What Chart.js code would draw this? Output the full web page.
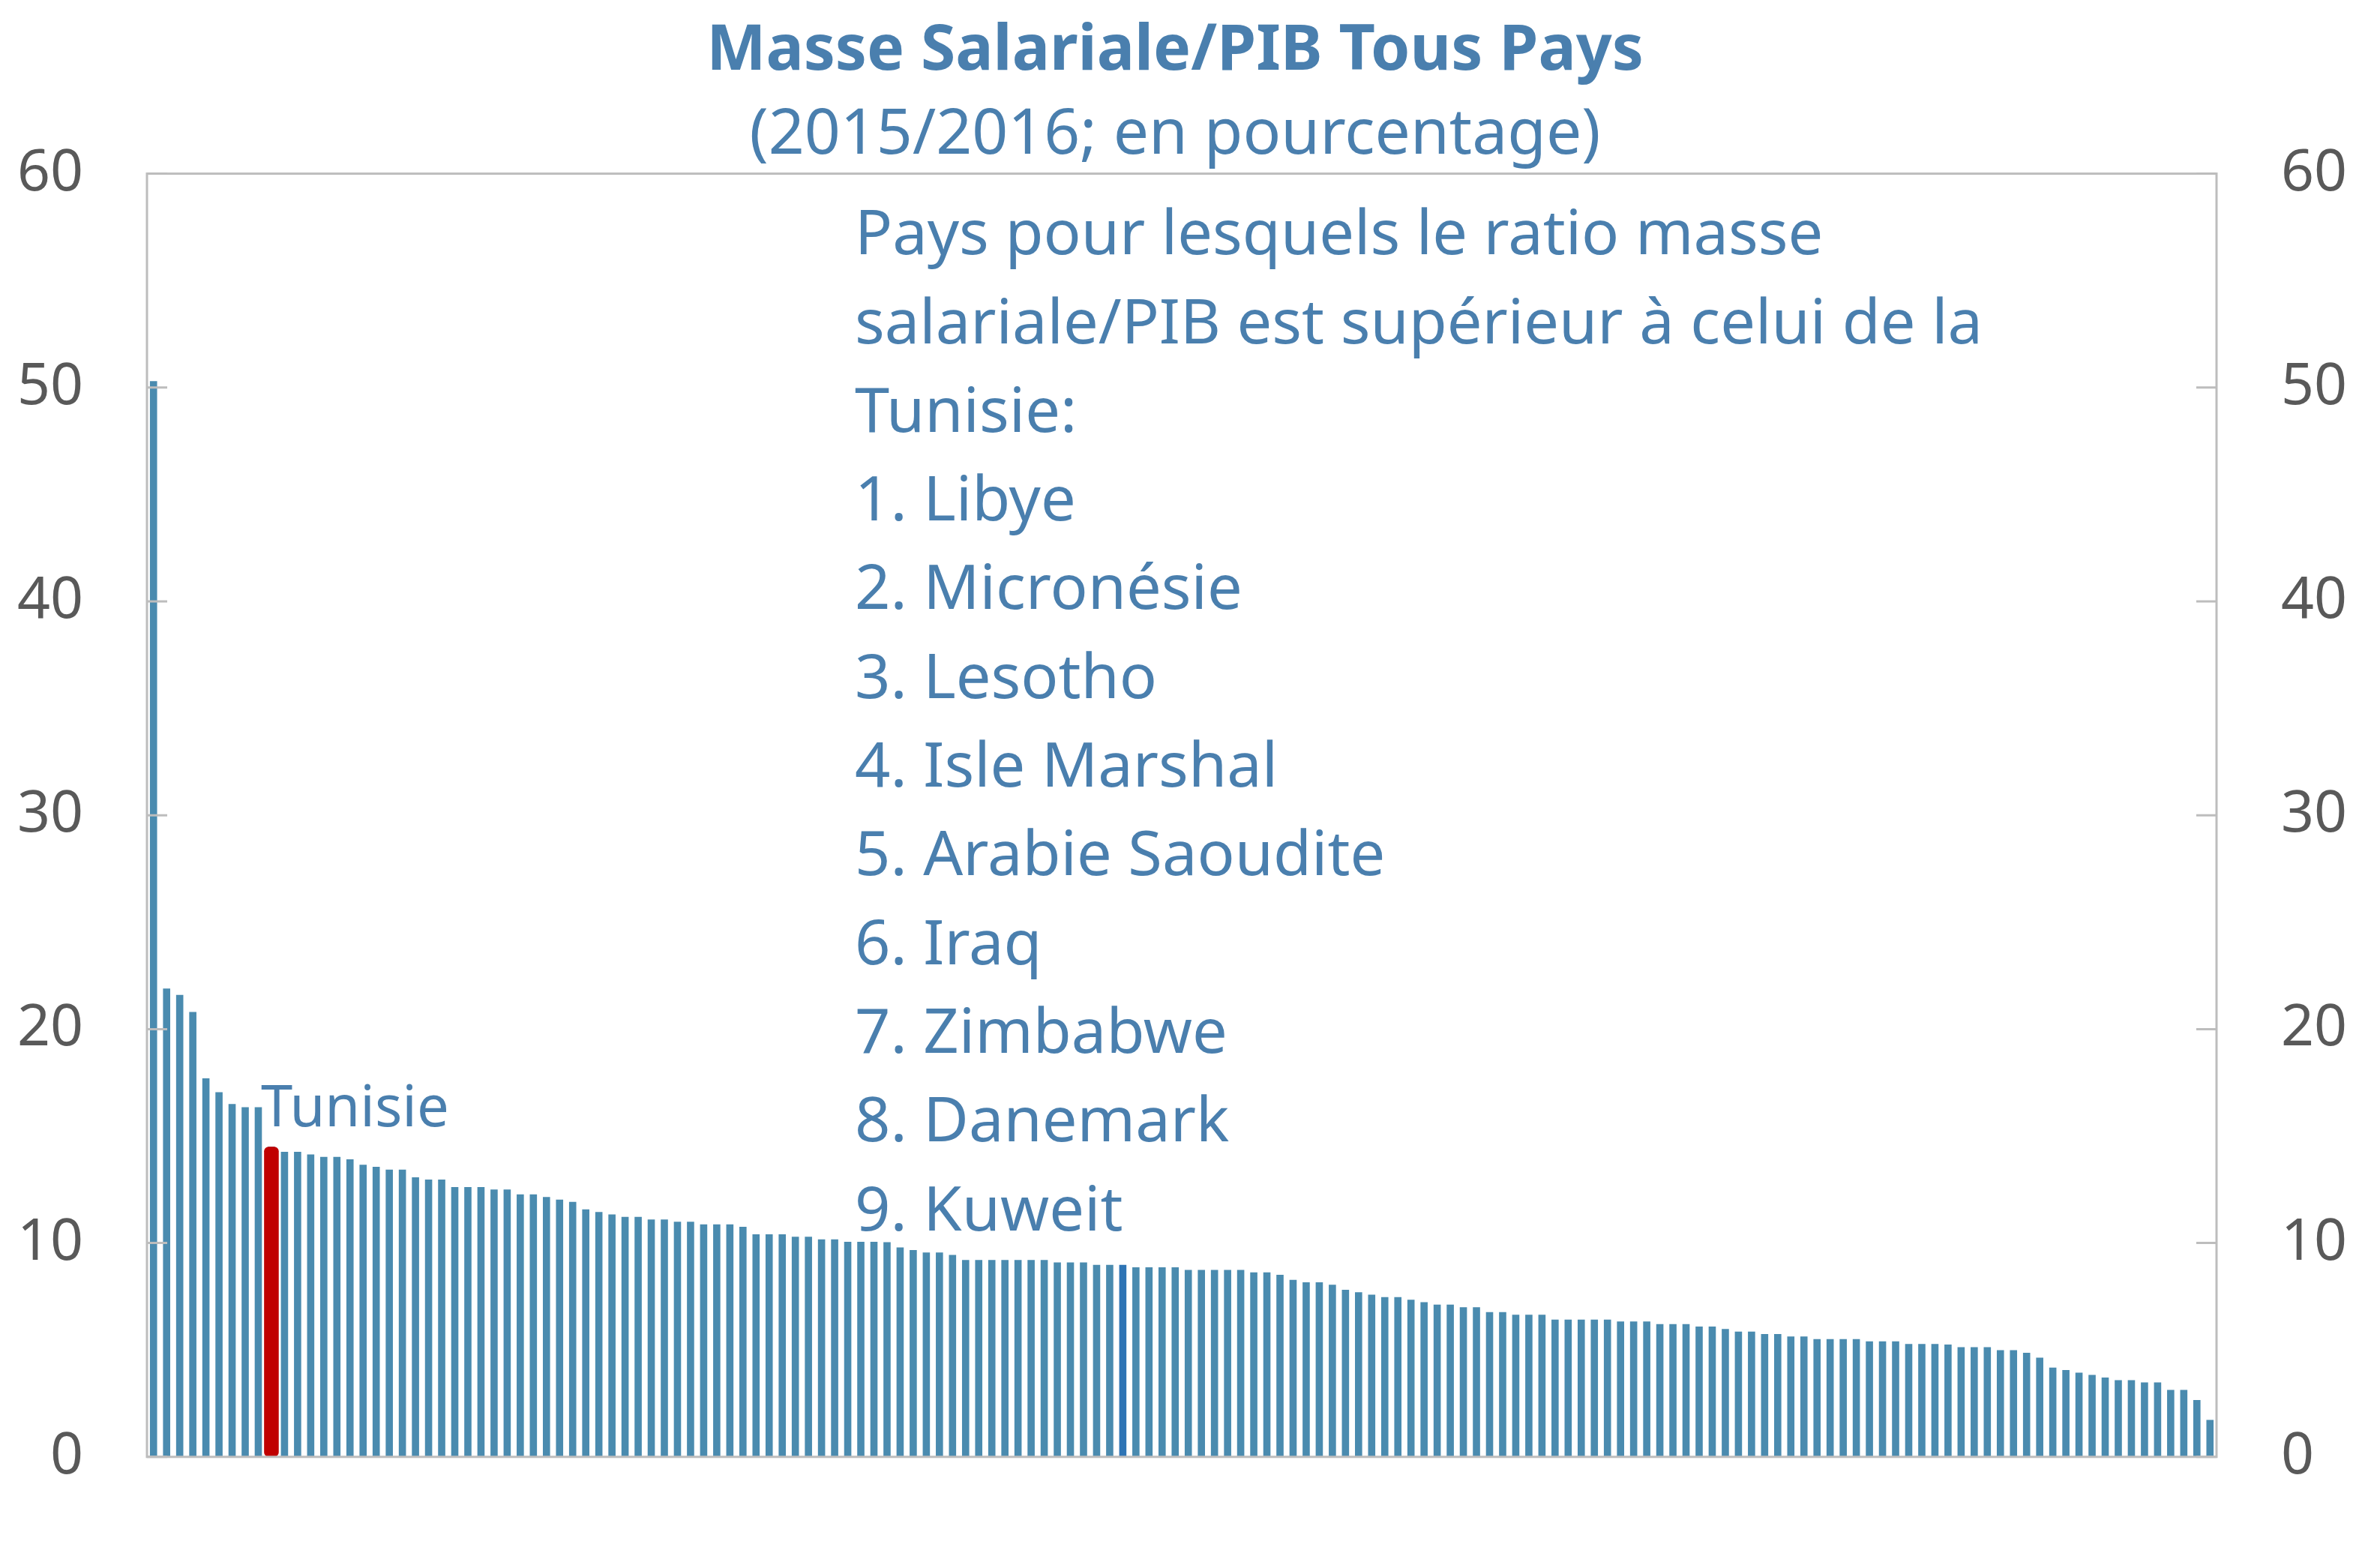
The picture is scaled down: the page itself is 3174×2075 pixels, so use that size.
<!DOCTYPE html>
<html>
<head>
<meta charset="utf-8">
<script src="https://cdn.jsdelivr.net/npm/chart.js@4"></script>
<style>
  body { margin: 0; background: #fff; }
</style>
</head>
<body>
<canvas id="wageBillChart" width="3174" height="2075"></canvas>
<script>
// Masse salariale / PIB, tous pays (2015/2016), sorted high to low
const values = [
  50.3, 21.9, 21.6, 20.8, 17.7, 17.05, 16.5, 16.35, 16.35, 14.5,
  14.26, 14.26, 14.14, 14.03, 14.03, 13.91, 13.66, 13.56, 13.43, 13.43,
  13.07, 12.97, 12.97, 12.62, 12.62, 12.62, 12.5, 12.5,
  12.27, 12.27, 12.15, 12.03, 11.92, 11.57, 11.45, 11.34, 11.22, 11.22,
  11.1, 11.1, 10.99, 10.99, 10.87, 10.87, 10.87, 10.76, 10.41, 10.41,
  10.41, 10.29, 10.29, 10.17, 10.17, 10.06, 10.06, 10.06,
  10.04, 9.79, 9.67, 9.56, 9.56, 9.44, 9.21, 9.21, 9.21, 9.21,
  9.21, 9.21, 9.21, 9.09, 9.09, 9.09, 8.98, 8.98, 8.98, 8.86,
  8.86, 8.86, 8.86, 8.74, 8.74, 8.74, 8.74, 8.74,
  8.63, 8.63, 8.51, 8.28, 8.16, 8.16, 8.05, 7.81, 7.7, 7.58,
  7.47, 7.47, 7.35, 7.23, 7.12, 7.12, 7.0, 7.0, 6.77, 6.77,
  6.65, 6.65, 6.65, 6.42, 6.42, 6.42, 6.42, 6.42,
  6.33, 6.33, 6.33, 6.21, 6.21, 6.21, 6.09, 6.09, 5.98, 5.86,
  5.86, 5.74, 5.74, 5.63, 5.63, 5.51, 5.51, 5.51, 5.51, 5.4,
  5.4, 5.4, 5.28, 5.28, 5.28, 5.25, 5.13, 5.13, 5.13,
  4.99, 4.99, 4.87, 4.64, 4.17, 4.06, 3.94, 3.83, 3.71, 3.59,
  3.59, 3.48, 3.48, 3.13, 3.13, 2.66, 1.73
];
// named countries (the 9 above Tunisia, then Tunisia); the rest are unnamed ranks
const countries = ['Libye', 'Micronésie', 'Lesotho', 'Isle Marshal', 'Arabie Saoudite',
  'Iraq', 'Zimbabwe', 'Danemark', 'Kuweit', 'Tunisie'];
const yTicks = [0, 10, 20, 30, 40, 50, 60];
const noteLines = [
  'Pays pour lesquels le ratio masse',
  'salariale/PIB est supérieur à celui de la',
  'Tunisie:',
  '1. Libye',
  '2. Micronésie',
  '3. Lesotho',
  '4. Isle Marshal',
  '5. Arabie Saoudite',
  '6. Iraq',
  '7. Zimbabwe',
  '8. Danemark',
  '9. Kuweit'
];

const tunIndex = countries.indexOf('Tunisie');
const darkIndex = 74;
const labels = values.map((v, i) => countries[i] || String(i + 1));

const BLUE = '#4A8BAF';
const TEXT_BLUE = '#4A7FAE';
const GREY = '#595959';
const AXIS = '#BDBDBD';
const FONT = "'Noto Sans', 'Open Sans', sans-serif";

// frame, inward ticks and the text notes
const decorations = {
  id: 'decorations',
  afterDatasetsDraw(chart) {
    const { ctx, chartArea: a, scales } = chart;
    ctx.save();
    ctx.strokeStyle = AXIS;
    ctx.lineWidth = 3;
    ctx.strokeRect(a.left, a.top, a.right - a.left, a.bottom - a.top);
    yTicks.forEach(t => {
      const y = scales.y.getPixelForValue(t);
      ctx.beginPath();
      ctx.moveTo(a.left, y); ctx.lineTo(a.left + 27, y);
      ctx.moveTo(a.right, y); ctx.lineTo(a.right - 27, y);
      ctx.stroke();
    });

    ctx.fillStyle = TEXT_BLUE;
    ctx.font = '76px ' + FONT;
    ctx.textBaseline = 'middle';
    ctx.textAlign = 'left';
    ctx.fillText('Tunisie', scales.x.getPixelForValue(tunIndex) - 14, scales.y.getPixelForValue(16.2));

    ctx.font = '83px ' + FONT;
    noteLines.forEach((line, i) => {
      ctx.fillText(line, a.left + 944, a.top + 84 + i * 118.3);
    });
    ctx.restore();
  }
};

const ctx = document.getElementById('wageBillChart').getContext('2d');
const wageBillChart = new Chart(ctx, {
  type: 'bar',
  data: {
    labels: labels,
    datasets: [
      {
        label: 'Tunisie',
        data: values.map((v, i) => (i === tunIndex ? v : null)),
        backgroundColor: '#C00000',
        borderColor: '#C00000',
        borderRadius: 6,
        borderSkipped: false,
        barPercentage: 1.12,
        categoryPercentage: 1,
        grouped: false,
        order: 0
      },
      {
        label: 'Masse salariale/PIB',
        data: values,
        backgroundColor: values.map((v, i) => (i === darkIndex ? '#2E74B5' : BLUE)),
        barPercentage: 0.55,
        categoryPercentage: 1,
        grouped: false,
        order: 1
      }
    ]
  },
  options: {
    responsive: false,
    devicePixelRatio: 1,
    animation: false,
    layout: { padding: { left: 0, right: 40, top: 0, bottom: 0 } },
    plugins: {
      legend: { display: false },
      tooltip: { enabled: false },
      title: {
        display: true,
        text: 'Masse Salariale/PIB Tous Pays',
        color: TEXT_BLUE,
        font: { family: FONT, size: 84, weight: 'bold' },
        padding: { top: 19, bottom: 0 }
      },
      subtitle: {
        display: true,
        text: '(2015/2016; en pourcentage)',
        color: TEXT_BLUE,
        font: { family: FONT, size: 84 },
        padding: { top: 11, bottom: 0 }
      }
    },
    scales: {
      x: {
        offset: true,
        grid: { display: false },
        border: { display: false },
        ticks: { display: false },
        afterFit: s => { s.height = 122; }
      },
      y: {
        position: 'left',
        min: 0,
        max: 60,
        afterBuildTicks: s => { s.ticks = yTicks.map(v => ({ value: v })); },
        grid: { display: false, drawTicks: false },
        border: { display: false },
        ticks: { color: GREY, padding: 85, font: { family: FONT, size: 77 } },
        afterFit: s => { s.width = 196; }
      },
      y2: {
        position: 'right',
        min: 0,
        max: 60,
        afterBuildTicks: s => { s.ticks = yTicks.map(v => ({ value: v })); },
        grid: { display: false, drawTicks: false },
        border: { display: false },
        ticks: { color: GREY, padding: 86, font: { family: FONT, size: 77 } },
        afterFit: s => { s.width = 178; }
      }
    }
  },
  plugins: [decorations]
});
</script>
</body>
</html>
